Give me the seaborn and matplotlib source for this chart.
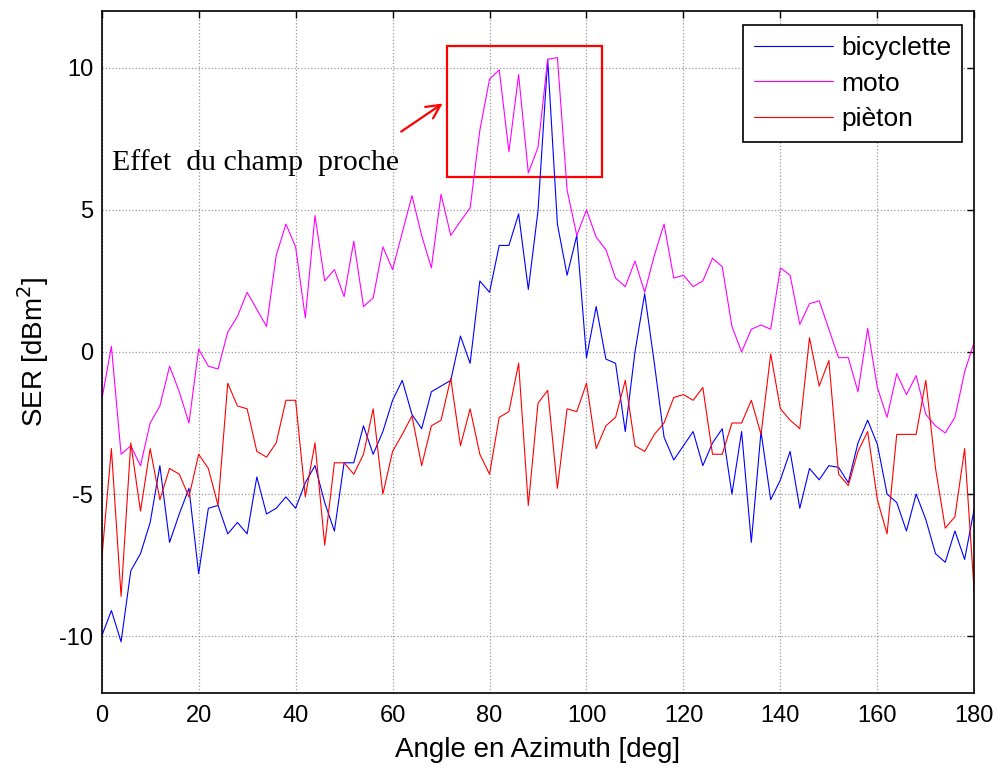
import numpy as np
import pandas as pd
import matplotlib
matplotlib.use("Agg")
import matplotlib.pyplot as plt
import seaborn as sns

# angle en azimuth, pas de 2 deg
angles = np.arange(0, 181, 2)

bicyclette = [
    -10.0, -9.1, -10.2, -7.7, -7.1, -6.0, -4.0, -6.7, -5.7, -4.8,
    -7.8, -5.5, -5.4, -6.4, -6.0, -6.4, -4.4, -5.7, -5.5, -5.1,
    -5.5, -4.6, -4.0, -5.3, -6.3, -3.9, -3.9, -2.6, -3.6, -2.8,
    -1.7, -1.0, -2.2, -2.7, -1.4, -1.2, -1.0, 0.56, -0.4, 2.5,
    2.1, 3.75, 3.75, 4.86, 2.2, 4.97, 10.3, 4.5, 2.7, 4.1,
    -0.2, 1.6, -0.25, -0.4, -2.8, 0.0, 2.05, -0.4, -3.0, -3.8,
    -3.3, -2.8, -4.0, -3.2, -2.7, -5.0, -2.8, -6.7, -2.8, -5.2,
    -4.5, -3.5, -5.5, -4.1, -4.5, -4.0, -4.06, -4.6, -3.2, -2.4,
    -3.25, -5.0, -5.3, -6.3, -5.0, -5.9, -7.1, -7.4, -6.3, -7.3,
    -5.5,
]

moto = [
    -1.7, 0.2, -3.6, -3.3, -4.0, -2.5, -1.9, -0.5, -1.4, -2.5,
    0.1, -0.5, -0.6, 0.7, 1.25, 2.1, 1.5, 0.9, 3.4, 4.5,
    3.7, 1.2, 4.8, 2.5, 2.9, 1.95, 3.9, 1.6, 1.9, 3.7,
    2.9, 4.2, 5.5, 4.1, 2.96, 5.55, 4.1, 4.6, 5.07, 7.8,
    9.6, 9.93, 7.05, 9.76, 6.3, 7.2, 10.3, 10.36, 5.7, 4.1,
    5.0, 4.04, 3.6, 2.6, 2.3, 3.2, 2.1, 3.4, 4.5, 2.6,
    2.7, 2.3, 2.5, 3.3, 3.0, 0.9, 0.0, 0.8, 0.95, 0.8,
    2.96, 2.7, 0.97, 1.7, 1.8, 0.8, -0.2, -0.2, -1.4, 0.83,
    -1.25, -2.3, -0.76, -1.5, -0.83, -2.2, -2.6, -2.85, -2.3, -0.7,
    0.36,
]

pieton = [
    -7.3, -3.4, -8.6, -3.2, -5.6, -3.4, -5.2, -4.1, -4.3, -5.1,
    -3.6, -4.1, -5.4, -1.1, -1.9, -2.0, -3.5, -3.7, -3.2, -1.7,
    -1.7, -5.1, -3.2, -6.8, -3.9, -3.9, -4.3, -3.6, -2.0, -5.0,
    -3.5, -2.9, -2.25, -4.0, -2.6, -2.4, -0.93, -3.3, -2.0, -3.6,
    -4.3, -2.3, -2.1, -0.4, -5.4, -1.8, -1.35, -4.8, -2.0, -2.1,
    -1.1, -3.4, -2.6, -2.3, -1.0, -3.3, -3.5, -2.9, -2.5, -1.6,
    -1.5, -1.7, -1.25, -3.6, -3.6, -2.5, -2.5, -1.7, -2.9, -0.07,
    -2.0, -2.4, -2.7, 0.5, -1.2, -0.3, -4.3, -4.7, -3.5, -2.8,
    -5.2, -6.4, -2.9, -2.9, -2.9, -1.0, -4.1, -6.2, -5.8, -3.4,
    -8.5,
]

labels = ["bicyclette", "moto", "pièton"]
couleurs = {"bicyclette": "#0000ff", "moto": "#ff00ff", "pièton": "#ff0000"}

df = pd.DataFrame({"angle": angles, "bicyclette": bicyclette,
                   "moto": moto, "pièton": pieton})
long = df.melt(id_vars="angle", var_name="objet", value_name="SER")

sns.set_theme(style="white")
plt.rcParams["font.family"] = ["Liberation Sans", "DejaVu Sans"]
plt.rcParams["axes.unicode_minus"] = False
plt.rcParams["text.color"] = "black"
plt.rcParams["axes.labelcolor"] = "black"

fig = plt.figure(figsize=(9.99, 7.74), dpi=100)
ax = fig.add_axes([0.1018, 0.1047, 0.8735, 0.8811])

sns.lineplot(data=long, x="angle", y="SER", hue="objet", hue_order=labels,
             palette=couleurs, linewidth=0.8, ax=ax)

ax.set_xlim(0, 180)
ax.set_ylim(-12, 12)
ax.set_xticks(np.arange(0, 181, 20))
ax.set_yticks([-10, -5, 0, 5, 10])
ax.grid(True, linestyle=":", color="0.6", linewidth=0.9)
for s in ax.spines.values():
    s.set_color("black")
    s.set_linewidth(1.2)
ax.tick_params(direction="in", length=5, width=1.0, top=True, right=True,
               labelsize=17, colors="black")
ax.tick_params(axis="x", pad=9)
ax.tick_params(axis="y", pad=6)

ax.set_xlabel("Angle en Azimuth [deg]", fontsize=20, labelpad=7)
ax.set_ylabel("SER [dBm$^2$]", fontsize=20, labelpad=6)

leg = ax.legend(loc="upper right", bbox_to_anchor=(0.986, 0.9795),
                borderaxespad=0, fontsize=19, handlelength=3.0,
                handletextpad=0.3, labelspacing=0.44, fancybox=False,
                framealpha=1, edgecolor="black", borderpad=0.42)
leg.get_frame().set_linewidth(1.2)
for t in leg.get_texts():
    t.set_color("black")

# zone du champ proche
ax.add_patch(plt.Rectangle((71.2, 6.15), 32.0, 4.62, fill=False,
                           edgecolor="red", linewidth=1.6))
ax.annotate("", xy=(70.8, 8.8), xytext=(61.3, 7.7),
            arrowprops=dict(arrowstyle="->", color="red", lw=1.6,
                            mutation_scale=25))
ax.text(2.2, 6.65, "Effet  du champ  proche", fontsize=21.5,
        family=["Liberation Serif", "DejaVu Serif"], va="center", ha="left")

fig.savefig("out.png", dpi=100)
